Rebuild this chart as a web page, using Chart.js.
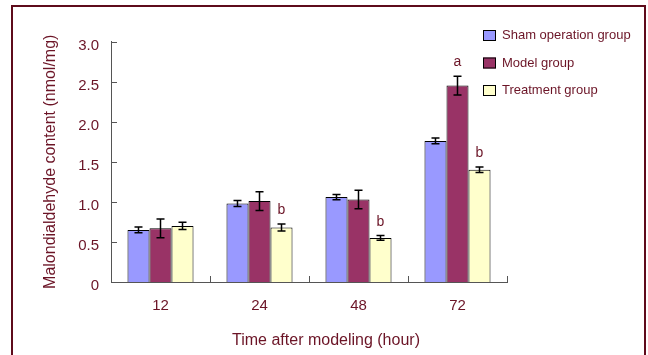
<!DOCTYPE html>
<html>
<head>
<meta charset="utf-8">
<script src="https://cdn.jsdelivr.net/npm/chart.js@4.4.0/dist/chart.umd.min.js"></script>
<style>
    body { margin: 0; background: #fff; }
    #wrap { position: relative; width: 648px; height: 355px; overflow: hidden; }
    #frame { position: absolute; left: 11px; top: 5px; width: 631px; height: 400px; border: 2px solid #5e0b1b; border-bottom: none; }
    canvas { position: absolute; left: 0; top: 0; }
</style>
</head>
<body>
<div id="wrap">
    <div id="frame"></div>
    <canvas id="mdaChart" width="648" height="355"></canvas>
</div>
<script>
const categories = ['12', '24', '48', '72'];
const shamValues = [0.65, 0.98, 1.06, 1.76];
const shamErrors = [0.035, 0.037, 0.033, 0.037];
const modelValues = [0.67, 1.01, 1.03, 2.45];
const modelErrors = [0.117, 0.117, 0.115, 0.117];
const treatValues = [0.70, 0.68, 0.55, 1.40];
const treatErrors = [0.045, 0.045, 0.03, 0.033];
const modelMarks = ['', '', '', 'a'];
const treatMarks = ['', 'b', 'b', 'b'];
const yTicks = [0, 0.5, 1.0, 1.5, 2.0, 2.5, 3.0];

const maroon = '#6b1426';
const fontName = '"Liberation Sans", Arial, sans-serif';

// error bars, significance letters, inner ticks, legend and x title
const extras = {
    id: 'extras',
    afterDatasetsDraw(chart) {
        const ctx = chart.ctx;
        const y = chart.scales.y;
        chart.data.datasets.forEach((ds, d) => {
            const meta = chart.getDatasetMeta(d);
            meta.data.forEach((bar, i) => {
                const hi = y.getPixelForValue(ds.data[i] + ds.errors[i]);
                const lo = y.getPixelForValue(ds.data[i] - ds.errors[i]);
                ctx.save();
                ctx.strokeStyle = '#000';
                ctx.lineWidth = 1.5;
                ctx.beginPath();
                ctx.moveTo(bar.x, hi); ctx.lineTo(bar.x, lo);
                ctx.moveTo(bar.x - 4, hi); ctx.lineTo(bar.x + 4, hi);
                ctx.moveTo(bar.x - 4, lo); ctx.lineTo(bar.x + 4, lo);
                ctx.stroke();
                if (ds.marks[i]) {
                    ctx.fillStyle = maroon;
                    ctx.font = '14px ' + fontName;
                    ctx.textAlign = 'center';
                    ctx.textBaseline = 'alphabetic';
                    ctx.fillText(ds.marks[i], bar.x, hi - 10);
                }
                ctx.restore();
            });
        });
    },
    afterDraw(chart) {
        const ctx = chart.ctx;
        const area = chart.chartArea;
        const x = chart.scales.x;
        const y = chart.scales.y;
        ctx.save();
        ctx.strokeStyle = '#555';
        ctx.lineWidth = 1;
        ctx.beginPath();
        y.ticks.forEach((t, k) => {
            const py = Math.round(y.getPixelForTick(k)) + 0.5;
            ctx.moveTo(area.left, py); ctx.lineTo(area.left + 6, py);
        });
        const half = (x.getPixelForValue(1) - x.getPixelForValue(0)) / 2;
        for (let i = 1; i <= categories.length; i++) {
            const px = Math.round(x.getPixelForValue(i) - half) + 0.5;
            ctx.moveTo(px, area.bottom); ctx.lineTo(px, area.bottom - 6);
        }
        ctx.stroke();

        // legend
        ctx.font = '13px ' + fontName;
        ctx.textBaseline = 'middle';
        ctx.textAlign = 'left';
        chart.data.datasets.forEach((ds, d) => {
            const top = 30 + d * 27.5;
            ctx.fillStyle = ds.backgroundColor;
            ctx.fillRect(483, top, 13, 11);
            ctx.strokeStyle = '#000';
            ctx.strokeRect(483.5, top + 0.5, 12, 10);
            ctx.fillStyle = maroon;
            ctx.fillText(ds.label, 502, top + 5.5);
        });

        // x axis title
        ctx.font = '16px ' + fontName;
        ctx.textAlign = 'center';
        ctx.fillText('Time after modeling (hour)', (area.left + area.right) / 2 + 17, 341);
        ctx.restore();
    }
};

function initChart() {
    const ctx = document.getElementById('mdaChart').getContext('2d');
    new Chart(ctx, {
        type: 'bar',
        data: {
            labels: categories,
            datasets: [
                { label: 'Sham operation group', data: shamValues, errors: shamErrors, marks: ['', '', '', ''],
                  backgroundColor: '#9999ff', borderColor: '#000', borderWidth: 1 },
                { label: 'Model group', data: modelValues, errors: modelErrors, marks: modelMarks,
                  backgroundColor: '#993366', borderColor: '#000', borderWidth: 1 },
                { label: 'Treatment group', data: treatValues, errors: treatErrors, marks: treatMarks,
                  backgroundColor: '#ffffcc', borderColor: '#000', borderWidth: 1 }
            ]
        },
        options: {
            responsive: false,
            animation: false,
            devicePixelRatio: 1,
            categoryPercentage: 0.667,
            barPercentage: 1.0,
            layout: { padding: { left: 0, top: 41.5, right: 141, bottom: 0 } },
            plugins: {
                legend: { display: false },
                tooltip: { enabled: false }
            },
            scales: {
                x: {
                    grid: { display: false, drawTicks: false },
                    border: { display: true, color: '#555', width: 1 },
                    ticks: { color: maroon, padding: 15, font: { family: fontName, size: 15 } },
                    afterFit(scale) { scale.height = 73; }
                },
                y: {
                    min: 0,
                    max: 3,
                    afterBuildTicks(scale) { scale.ticks = yTicks.map(v => ({ value: v })); },
                    grid: { display: false, drawTicks: false },
                    border: { display: true, color: '#555', width: 1 },
                    ticks: {
                        color: maroon,
                        padding: 12,
                        labelOffset: 4,
                        font: { family: fontName, size: 15 },
                        callback: v => v === 0 ? '0' : v.toFixed(1)
                    },
                    title: {
                        display: true,
                        text: 'Malondialdehyde content (nmol/mg)',
                        color: maroon,
                        font: { family: fontName, size: 16 },
                        padding: { top: 41, bottom: 0 }
                    },
                    afterFit(scale) { scale.width = 111; }
                }
            }
        },
        plugins: [extras]
    });
}

window.onload = () => {
    initChart();
};
</script>
</body>
</html>
